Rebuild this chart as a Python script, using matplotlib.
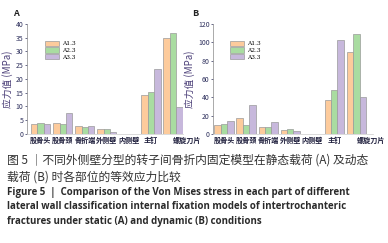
import numpy as np
import matplotlib
matplotlib.use("Agg")
import matplotlib.pyplot as plt
import matplotlib.patches as mpatches

plt.rcParams['font.family'] = ['Noto Sans CJK SC', 'DejaVu Sans']

# data
parts = ["股骨头", "股骨颈", "骨折端", "外侧壁", "内侧壁", "主钉", "螺旋刀片"]
series = ["A1.3", "A2.3", "A3.3"]
static_a13 = [3.5, 3.9, 2.8, 1.8, 0, 14.1, 35.0]
static_a23 = [4.0, 3.6, 2.5, 1.8, 0, 15.2, 36.6]
static_a33 = [3.6, 7.6, 2.9, 0.7, 0, 23.5, 9.8]
dynamic_a13 = [9.5, 17.0, 7.6, 4.0, 0, 37.5, 89.0]
dynamic_a23 = [10.5, 10.2, 7.3, 5.1, 0, 47.6, 109.0]
dynamic_a33 = [13.8, 31.3, 12.7, 2.9, 0, 102.0, 40.0]
yticks_a = [0, 5, 10, 15, 20, 25, 30, 35, 40]
yticks_b = [0, 20, 40, 60, 80, 100, 120]

colors = ["#fdcb9c", "#a9dca1", "#c7b8dc"]
edge = "#9a9a9a"
txtcol = "#2d2f5c"
ylabcol = "#4b3f78"

fig = plt.figure(figsize=(3.88, 2.43), dpi=100)

def panel(rect, vals, yt, xlim, letter, letter_xy, leg_xy):
    ax = fig.add_axes(rect)
    x = np.arange(len(parts))
    w = 0.29
    for i, v in enumerate(vals):
        ax.bar(x + (i - 1) * w, v, w, color=colors[i], edgecolor=edge, linewidth=0.5)
    ax.set_xlim(*xlim)
    ax.set_ylim(yt[0], yt[-1])
    ax.set_yticks(yt)
    ax.tick_params(axis='y', labelsize=5, colors=txtcol, length=1.5, width=0.5, pad=1)
    ax.set_xticks(x)
    labs = ax.set_xticklabels(parts, fontsize=5.1, fontweight='bold', color="#1e1e3c")
    labs[-1].set_horizontalalignment('left')
    labs[-1].set_x(len(parts) - 1.45)
    ax.tick_params(axis='x', length=0, pad=2)
    for s in ['top', 'right']:
        ax.spines[s].set_visible(False)
    ax.spines['left'].set_color("#888888")
    ax.spines['left'].set_linewidth(0.5)
    ax.spines['bottom'].set_color("#cccccc")
    ax.spines['bottom'].set_linewidth(0.5)
    ax.set_ylabel("应力值 (MPa)", fontsize=7, color=ylabcol, labelpad=2)
    fig.text(letter_xy[0], letter_xy[1], letter, fontsize=6.5, fontweight='bold', color="#222222")
    handles = [mpatches.Patch(facecolor=colors[i], edgecolor=edge, linewidth=0.5, label=series[i]) for i in range(3)]
    ax.legend(handles=handles, loc='upper left', bbox_to_anchor=leg_xy, bbox_transform=fig.transFigure,
              frameon=False, handlelength=2.4, handleheight=1.1, labelspacing=0.15,
              handletextpad=0.5, borderpad=0, prop={'family': 'DejaVu Serif', 'size': 4.2})
    return ax

panel([0.0696, 0.4486, 0.402, 0.4527], [static_a13, static_a23, static_a33], yticks_a,
      (-0.62, 6.45), "A", (0.033, 0.935), (0.108, 0.845))
panel([0.549, 0.4486, 0.412, 0.4527], [dynamic_a13, dynamic_a23, dynamic_a33], yticks_b,
      (-0.5, 6.75), "B", (0.495, 0.935), (0.585, 0.845))

cap_cn = ["图 5 ｜不同外侧壁分型的转子间骨折内固定模型在静态载荷 (A) 及动态",
          "载荷 (B) 时各部位的等效应力比较"]
cap_en = ["Figure 5  |  Comparison of the Von Mises stress in each part of different",
          "lateral wall classification internal fixation models of intertrochanteric",
          "fractures under static (A) and dynamic (B) conditions"]
fig.text(0.018, 1 - 160 / 243, cap_cn[0], fontsize=8.5, color="#333333", va='center')
fig.text(0.018, 1 - 177 / 243, cap_cn[1], fontsize=8.5, color="#333333", va='center')
for i, line in enumerate(cap_en):
    fig.text(0.018, 1 - (192 + i * 14.7) / 243, line, fontsize=7.0, fontweight='bold',
             color="#2a2a2a", va='center', family='Open Sans')

fig.savefig("out.png", dpi=100)
